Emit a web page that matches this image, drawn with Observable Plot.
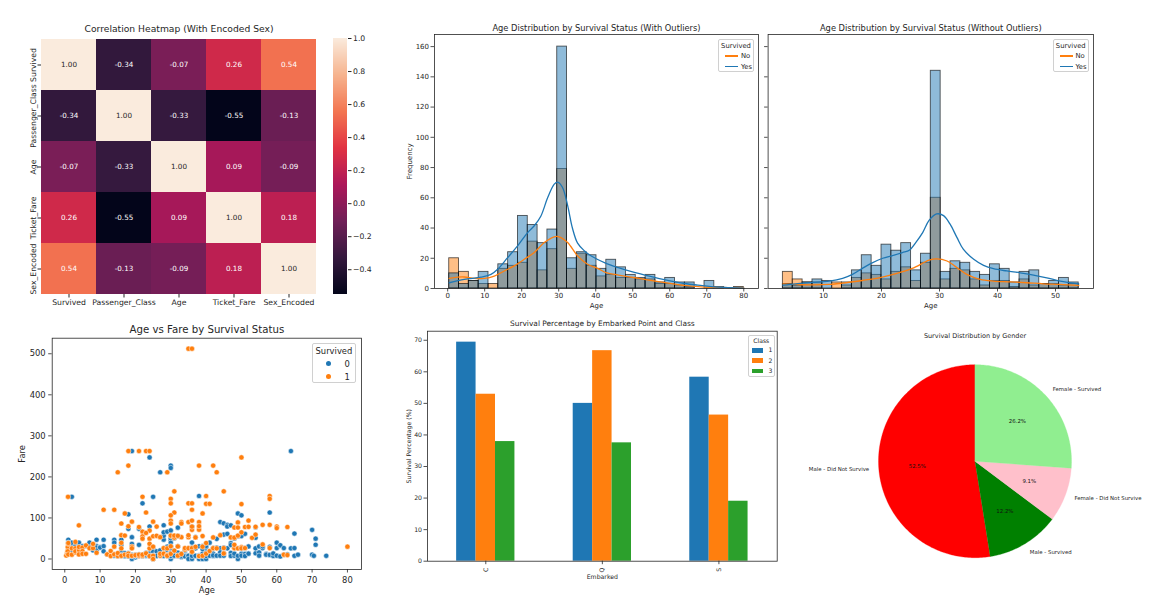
<!DOCTYPE html>
<html>
<head>
<meta charset="utf-8">
<script src="https://cdn.jsdelivr.net/npm/d3@7"></script>
<script src="https://cdn.jsdelivr.net/npm/@observablehq/plot@0.6"></script>
<style>
  html, body { margin: 0; padding: 0; background: #ffffff; }
  #page { position: relative; width: 1175px; height: 607px; overflow: hidden; background: #ffffff; }
</style>
</head>
<body>
<div id="page"></div>
<script>
// ---------- Correlation heatmap ----------
const corrLabels = ["Survived", "Passenger_Class", "Age", "Ticket_Fare", "Sex_Encoded"];
const corrValues = [
  [ 1.00, -0.34, -0.07,  0.26,  0.54],
  [-0.34,  1.00, -0.33, -0.55, -0.13],
  [-0.07, -0.33,  1.00,  0.09, -0.09],
  [ 0.26, -0.55,  0.09,  1.00,  0.18],
  [ 0.54, -0.13, -0.09,  0.18,  1.00]
];
const corrTicks = [-0.4, -0.2, 0.0, 0.2, 0.4, 0.6, 0.8, 1.0];

// ---------- Age histograms (30 bins each) ----------
const histAllMin = 0.42, histAllMax = 80;
const histAllYes = [10, 3, 5, 11, 0, 16, 24, 48, 42, 30, 39, 160, 20, 24, 22, 13, 19, 14, 9, 7, 9, 4, 7, 4, 4, 0, 5, 1, 0, 0];
const histAllNo  = [20, 11, 5, 3, 3, 13, 15, 17, 31, 12, 26, 79, 13, 23, 15, 8, 9, 7, 7, 6, 6, 3, 3, 2, 1, 0, 0, 0, 0, 1];
const histTrimMin = 3, histTrimMax = 54;
const histTrimYes = [3, 2, 4, 6, 5, 0, 4, 12, 22, 15, 29, 25, 30, 12, 23, 144, 11, 18, 17, 11, 9, 16, 13, 4, 11, 12, 3, 5, 7, 4];
const histTrimNo  = [11, 6, 4, 4, 0, 4, 2, 7, 10, 9, 6, 11, 14, 5, 17, 60, 6, 13, 12, 6, 2, 5, 5, 1, 6, 2, 3, 3, 2, 3];
const histAllXTicks = [0, 10, 20, 30, 40, 50, 60, 70, 80];
const histTrimXTicks = [10, 20, 30, 40, 50];
const histYTicks = [0, 20, 40, 60, 80, 100, 120, 140, 160];
const histLegendLabels = ["No", "Yes"];

// Density curves (counts scale)
const kdeAllYesAge  = [0.42, 4.5, 9, 11.7, 13.5, 16.2, 18.9, 21.6, 23.4, 25.2, 27, 28.8, 29.7, 31, 32.4, 33.7, 35.1, 36.9, 38.8, 42.5, 46.1, 49.7, 53.3, 56.9, 60.4, 64, 67.6, 71.2, 74.8, 80];
const kdeAllYesFreq = [3.8, 6, 7.5, 9.3, 12.7, 20.4, 28.2, 37, 41.5, 48, 60, 69, 70.4, 67, 55, 40, 30, 25, 21.5, 17, 13.8, 11.1, 8.9, 6.7, 4.9, 3.3, 2.2, 1.3, 0.7, 0.2];
const kdeAllNoAge   = [0.42, 2.7, 4.5, 7.2, 9.9, 12.6, 15.3, 18, 20.7, 23.4, 26.1, 28.8, 30.1, 32.4, 35.1, 37.8, 40.5, 43, 46.1, 50.6, 55.1, 59.6, 64, 68.5, 73, 80];
const kdeAllNoFreq  = [6.7, 7.5, 7.6, 6.7, 6.7, 8.2, 11.6, 15, 19.3, 23.8, 30.4, 34.2, 34.2, 30.4, 21.6, 16, 13.3, 10.3, 8.9, 7.1, 5.3, 3.6, 2, 1.1, 0.7, 0.4];
const kdeTrimYesAge  = [3, 5.2, 8.1, 11, 13.3, 15, 16.7, 18.4, 20.2, 21.9, 23.6, 24.8, 25.9, 27.1, 28.2, 29.5, 30.7, 31.8, 33, 34.1, 35.9, 37.6, 39.3, 41.6, 43.9, 46.2, 48.5, 50.8, 54];
const kdeTrimYesFreq = [2.2, 3.1, 4, 4.9, 6.7, 9.3, 13.3, 17, 20, 21.8, 23.8, 25.3, 30.4, 37, 45, 49.3, 48.2, 42.7, 33.8, 26, 19.3, 15.3, 13.1, 11.6, 10.4, 8.9, 7.1, 4.9, 3.1];
const kdeTrimNoAge   = [3, 5.2, 8.1, 11, 13.9, 16.7, 19.6, 22.5, 25.3, 28.2, 29.5, 31.3, 33, 34.7, 37, 39.3, 42.2, 45.1, 47.9, 50.8, 54];
const kdeTrimNoFreq  = [3.1, 2.7, 2.4, 2.7, 3.8, 5.3, 7.1, 9.8, 13.3, 18.7, 19.6, 18.2, 13.8, 9.3, 6, 4.9, 4.4, 3.8, 3.1, 2.7, 2];

// ---------- Age vs fare (age, fare) ----------
const fareNotSurvived = [
  [1,46.9],[1,39.7],[2,151.5],[2,29.1],[2,39.7],[2,21],[3,21],[3,31.4],[4,29.1],[4,31.3],[4,39.7],[5,31.4],[6,31.3],[7,39.7],[7,29.1],[8,21],[8,29.1],[9,46.9],[9,31.4],[9,27.9],[9,20.5],[10,29.1],[10,27.9],[11,46.9],[11,31.3],[11,18.8],[12,11.2],[14,46.9],[14,39.7],[14,7.85],[14,11.2],
  [15,7.2],[16,46.9],[16,34.4],[16,18],[16,9.2],[16,7.75],[17,7.9],[17,14.5],[17,8.7],[17,7.1],[18,7.8],[18,11.5],[18,108.9],[18,7.75],[18,14.45],[18,73.5],[18,6.5],[19,8.05],[19,0],[19,7.9],[19,53.1],[19,36.8],[19,263],[19,10.2],[19,6.75],[20,7.05],[20,9.8],[20,4],[20,7.9],[20,8.05],[20,9.5],
  [21,8.05],[21,7.9],[21,73.5],[21,7.8],[21,11.5],[21,34.4],[22,7.25],[22,9],[22,10.5],[22,135.6],[22,8.05],[22,7.8],[23,7.85],[23,13],[23,7.9],[23,15.05],[23,9.2],[24,7.8],[24,79.2],[24,247.5],[24,7.05],[24,16.1],[24,13],[24,8.05],[25,7.05],[25,26],[25,7.65],[25,151.5],[25,17.8],[25,0],[25,7.9],
  [26,7.9],[26,14.5],[26,8.05],[26,18.8],[26,7.75],[27,7.9],[27,13],[27,211.3],[27,8.66],[27,21],[28,7.9],[28,47.1],[28,10.5],[28,56.5],[28,82.2],[28,65],[28,26],[28,9.5],[28,7.75],[29,7.75],[29,21],[29,66.6],[29,7.9],[29,10.5],[29,30],
  [30,0],[30,8.05],[30,13],[30,7.9],[30,27.7],[30,16.1],[30,45.5],[30,227.5],[30,221.8],[30,50],[30,56.5],[30,24.15],[30,7.25],[30,7.75],[30,69.55],[30,15.5],[30,31.3],[30,14.5],[30,8.45],[30,6.95],[30,39.6],
  [31,7.8],[31,50.5],[31,13],[31,18],[31,8.05],[32,7.9],[32,30.5],[32,56.5],[32,15.5],[32,76.3],[32,8.05],[32,7.75],[33,8.05],[33,5],[33,9.5],[33,12.3],[33,7.9],[34,13],[34,8.05],[34,6.5],[34,21],[35,26],[35,7.05],[35,8.05],[35,7.9],[35,0],
  [36,0],[36,13],[36,7.9],[36,27.8],[36,40.1],[36,79.2],[36,15.55],[36,7.5],[37,7.9],[37,26],[37,7.75],[37,53.1],[38,0],[38,7.9],[38,153.5],[38,8.66],[38,31],[38,7.05],[39,0],[39,26],[39,31.3],[39,7.9],[39,13],[39,24.15],[40,0],[40,27.7],[40,9.5],[40,31.3],[40,7.2],[40,15.5],
  [41,14.1],[41,39.7],[41,7.85],[42,7.55],[42,26.55],[42,13],[42,8.66],[43,8.05],[43,27.7],[43,49],[44,26],[44,16.1],[44,90],[44,8.05],[45,8.05],[45,27.7],[45,87],[45,59.5],[45,14.45],[46,61.2],[46,83.2],[46,26],[46,79.2],[47,9],[47,38.5],[47,34],[47,81.9],[47,15],[47,7.25],[48,7.85],[48,50],[48,13],[49,0],[49,26],[49,110.9],[49,55.4],[49,7.9],[50,13],[50,8.05],[50,55.9],[50,106.4],[50,26],
  [51,12.5],[51,61.4],[51,7.05],[51,26.55],[52,13.5],[52,30.5],[52,13],[54,14],[54,51.9],[54,77.3],[54,26],[55,30.5],[55,16],[55,8.05],[56,26.55],[56,30.7],[57,12.35],[57,10.5],[58,29.7],[58,113.3],[58,9.9],[59,7.25],[59,13.5],[60,26.55],[60,39.7],[60,8],[61,32.3],[61,6.2],[61,33.5],[62,26.55],[62,10.5],[63,11.5],[64,26],[64,263],[65,7.75],[65,26.55],[65,62],[66,10.5],[70,10.5],[70,71],[70.5,7.75],[71,34.7],[71,49.5],[74,7.75]
];
const fareSurvived = [
  [35,512.3],[36,512.3],[18,263],[21,263],[23,263],[24,263],[50,247.5],[18,227.5],[38,227.5],[42,227.5],[15,211.3],[29,211.3],[43,211.3],[31,164.9],[45,164.9],[0.92,151.5],[22,151.5],[40,153.5],[58,153.5],[58,146.5],[30,146.5],[30,135.6],[35,135.6],[36,135.6],[40,134.5],[41,134.5],[50,133.7],[11,120],[14,120],[36,120],[23,113.3],[31,113.3],[39,110.9],[17,110.9],
  [16,86.5],[19,91],[25,91],[30,93.5],[33,90],[35,90],[36,93.5],[38,90],[49,89.1],[52,93.5],[4,81.9],[58,83.2],[63,77.96],[18,79.7],[21,77.9],[26,78.9],[48,76.7],[51,77.96],[52,78.3],[54,78.3],[60,79.2],[60,75.25],[24,69.3],[56,83.2],
  [16,57.9],[17,57],[22,66.6],[22,55],[22,49.5],[23,63.4],[24,49.5],[25,55.4],[26,56.5],[27,53.1],[30,56.9],[31,52],[31,57],[33,53.1],[35,53.1],[35,57.75],[36,71],[38,71.3],[37,52.6],[39,55.9],[42,52.6],[44,57.9],[47,52.6],[48,52],[49,56.9],[50,65],[53,51.5],[54,59.4],
  [0.42,8.5],[0.67,14.5],[0.75,19.3],[0.83,29],[0.83,18.75],[1,11.1],[1,37],[1,39],[2,26],[2,10.5],[3,41.6],[3,26],[3,15.9],[3,18.75],[4,16.7],[4,22],[4,11.1],[4,29.1],[5,27.75],[5,19.25],[5,12.5],[6,12.5],[6,33],[7,26.25],[8,26.25],[8,36.75],[9,15.25],[12,11.24],[13,19.5],[13,7.2],[14,11.24],[14,30.07],[15,7.2],[15,14.45],[16,26],[16,39.4],[16,7.7],[17,10.5],[18,9.8],[18,13],[18,7.75],[19,30],[19,26],[19,7.85],[20,9.2],[21,7.65],[21,10.5],[22,7.75],[22,10.5],[23,13.8],[24,26],[24,7.1],[24,37],[25,7.9],[25,30],[25,0],[27,7.9],[27,12.5],[28,13],[28,26.55],[29,26],[29,9.5],[29,7.8],
  [30,31],[30,12.5],[30,86.5],[30,106.4],[31,20.5],[32,30.5],[32,8.05],[32,56.5],[33,86.5],[33,12.3],[34,23],[34,26.55],[35,26.3],[36,26.4],[36,78.9],[36,17.4],[37,29.7],[38,80],[38,7.2],[39,30],[39,7.9],[40,13],[40,39],[41,19.5],[42,26.3],[43,26],[45,26.55],[45,13.5],[48,25.9],[48,26.55],[48,34.4],[49,25.9],[49,76.7],[50,28.7],[50,26],[51,26.55],[56,35.5],[58,26.55],[62,10.5],[63,9.6],[80,30]
];
const scatterXTicks = [0, 10, 20, 30, 40, 50, 60, 70, 80];
const scatterYTicks = [0, 100, 200, 300, 400, 500];
const scatterLegendLabels = ["0", "1"];

// ---------- Survival percentage by embarked point and class ----------
const embarkPoints = ["C", "Q", "S"];
const classLabels = ["1", "2", "3"];
const survivalPct = [
  [69.4, 52.9, 37.9],
  [50.0, 66.7, 37.5],
  [58.3, 46.3, 19.0]
];
const pctTicks = [0, 10, 20, 30, 40, 50, 60, 70];

// ---------- Survival by gender ----------
const pieLabels = ["Male - Did Not Survive", "Male - Survived", "Female - Did Not Survive", "Female - Survived"];
const pieCounts = [468, 109, 81, 233];

// ================= drawing =================
const FONT = "'DejaVu Sans', sans-serif";
const INK = "#262626";
const BLUE = "#1f77b4", ORANGE = "#ff7f0e", GREEN = "#2ca02c";
const classColors = [BLUE, ORANGE, GREEN];
const pieColors = ["#ff0000", "#008000", "#ffc0cb", "#90ee90"];
const ROCKET = ["#03051A", "#35193E", "#701F57", "#AD1759", "#E13342", "#F37651", "#F6B48F", "#FAEBDD"];
const page = document.getElementById("page");

function mount(svg, left, top) {
  Object.assign(svg.style, {position: "absolute", left: left + "px", top: top + "px", overflow: "visible", background: "none", maxWidth: "none"});
  page.appendChild(svg);
}
const baseStyle = {fontFamily: FONT, color: INK, background: "none", overflow: "visible"};
const frameMark = () => Plot.frame({stroke: INK, strokeWidth: 0.8});

// matplotlib-style legend box
function legendBox(s) {
  const box = document.createElement("div");
  Object.assign(box.style, {position: "absolute", left: s.x + "px", top: s.y + "px", width: s.w + "px", height: s.h + "px",
    boxSizing: "border-box", border: "0.8px solid #d0d0d0", borderRadius: "2px", background: "rgba(255,255,255,0.85)",
    fontFamily: FONT, fontSize: s.fs + "px", color: INK, lineHeight: "1"});
  const t = document.createElement("div");
  Object.assign(t.style, {position: "absolute", left: "0", width: "100%", textAlign: "center", top: (s.titleY - s.y) + "px", transform: "translateY(-50%)", whiteSpace: "nowrap"});
  t.textContent = s.title;
  box.appendChild(t);
  s.entries.forEach((e, k) => {
    const cy = s.rowY[k] - s.y;
    const sw = document.createElement("div");
    if (s.kind === "line") {
      Object.assign(sw.style, {position: "absolute", left: (s.sx0 - s.x) + "px", width: (s.sx1 - s.sx0) + "px", top: (cy - 0.75) + "px", height: "1.5px", background: e.color});
    } else if (s.kind === "dot") {
      Object.assign(sw.style, {position: "absolute", left: (s.sx0 - s.x - 2.6) + "px", width: "5.2px", top: (cy - 2.6) + "px", height: "5.2px", borderRadius: "50%", background: e.color});
    } else {
      Object.assign(sw.style, {position: "absolute", left: (s.sx0 - s.x) + "px", width: (s.sx1 - s.sx0) + "px", top: (cy - 2.3) + "px", height: "4.6px", background: e.color});
    }
    const lb = document.createElement("div");
    Object.assign(lb.style, {position: "absolute", left: (s.lx - s.x) + "px", top: cy + "px", transform: "translateY(-50%)", whiteSpace: "nowrap"});
    lb.textContent = e.label;
    box.append(sw, lb);
  });
  page.appendChild(box);
}

// ---- heatmap ----
const corrCells = corrLabels.flatMap((row, i) => corrLabels.map((col, j) => ({row, col, value: corrValues[i][j]})));
const corrMin = d3.min(corrCells, d => d.value);
const rocket = d3.piecewise(d3.interpolateRgb, ROCKET);
const corrColor = {type: "linear", domain: [corrMin, 1], interpolate: rocket};
const cellText = {x: "col", y: "row", text: d => d.value.toFixed(2), fontSize: 7.2};

mount(Plot.plot({
  width: 325, height: 320, marginLeft: 41, marginRight: 9, marginTop: 38, marginBottom: 26,
  style: baseStyle,
  x: {domain: corrLabels, padding: 0},
  y: {domain: corrLabels, padding: 0},
  color: corrColor,
  marks: [
    Plot.cell(corrCells, {x: "col", y: "row", fill: "value", inset: 0}),
    Plot.text(corrCells.filter(d => d.value >= 0.75), {...cellText, fill: INK}),
    Plot.text(corrCells.filter(d => d.value < 0.75), {...cellText, fill: "#ffffff"}),
    Plot.axisX({tickSize: 3.5, tickPadding: 2, fontSize: 7.7, label: null}),
    Plot.axisY({tickSize: 3.5, tickPadding: 2, tickRotate: -90, fontSize: 7.7, label: null}),
    Plot.text(["Correlation Heatmap (With Encoded Sex)"], {text: d => d, frameAnchor: "top", lineAnchor: "middle", dy: -9, fontSize: 9.2})
  ]
}), 0, 0);

// ---- colour bar ----
const rampN = 256, rampStep = (1 - corrMin) / rampN;
const rampLevels = d3.range(rampN).map(i => corrMin + i * rampStep);
mount(Plot.plot({
  width: 60, height: 320, marginLeft: 8, marginRight: 38, marginTop: 38, marginBottom: 26,
  style: baseStyle,
  x: {domain: [0, 1], axis: null},
  y: {domain: [corrMin, 1]},
  color: corrColor,
  marks: [
    Plot.rect(rampLevels, {x1: () => 0, x2: () => 1, y1: d => d, y2: d => d + rampStep * 1.02, fill: d => d + rampStep / 2, shapeRendering: "crispEdges"}),
    Plot.axisY({anchor: "right", ticks: corrTicks, tickFormat: d3.format(".1f"), tickSize: 3.5, tickPadding: 2, fontSize: 7.7, label: null})
  ]
}), 325, 0);

// ---- histograms ----
function binsOf(min, max, counts) {
  const w = (max - min) / counts.length;
  return counts.map((n, i) => ({x1: min + i * w, x2: min + (i + 1) * w, n})).filter(d => d.n > 0);
}
const histYMax = d3.max([...histAllYes, ...histAllNo, ...histTrimYes, ...histTrimNo]) * 1.05;
function histPanel(o) {
  const pad = (o.max - o.min) * 0.05;
  const barStyle = {x1: "x1", x2: "x2", y1: () => 0, y2: "n", fillOpacity: 0.5, stroke: "#000000", strokeOpacity: 0.65, strokeWidth: 0.9};
  const lineStyle = {x: d => d[0], y: d => d[1], strokeWidth: 1.3, curve: "catmull-rom"};
  return Plot.plot({
    width: o.width, height: 315, marginLeft: o.marginLeft, marginRight: o.marginRight, marginTop: 34, marginBottom: 27,
    style: baseStyle,
    x: {domain: [o.min - pad, o.max + pad]},
    y: {domain: [0, histYMax]},
    marks: [
      Plot.rect(binsOf(o.min, o.max, o.no), {...barStyle, fill: ORANGE}),
      Plot.rect(binsOf(o.min, o.max, o.yes), {...barStyle, fill: BLUE}),
      Plot.line(d3.zip(o.kdeNoAge, o.kdeNoFreq), {...lineStyle, stroke: ORANGE}),
      Plot.line(d3.zip(o.kdeYesAge, o.kdeYesFreq), {...lineStyle, stroke: BLUE}),
      frameMark(),
      Plot.axisX({ticks: o.xTicks, tickSize: 3.5, tickPadding: 1.5, fontSize: 7, label: null, strokeWidth: 0.8}),
      Plot.axisY({ticks: histYTicks, tickSize: 3.5, tickPadding: 2, fontSize: 7, label: null, strokeWidth: 0.8,
                  tickFormat: o.yLabels ? d => String(d) : () => ""}),
      Plot.text([o.title], {text: d => d, frameAnchor: "top", lineAnchor: "middle", dy: -6, fontSize: 8.3}),
      Plot.text(["Age"], {text: d => d, frameAnchor: "bottom", lineAnchor: "middle", dy: 17, fontSize: 7}),
      o.yLabels ? Plot.text(["Frequency"], {text: d => d, frameAnchor: "left", textAnchor: "middle", lineAnchor: "middle", rotate: -90, dx: -25, fontSize: 7}) : null
    ]
  });
}
mount(histPanel({
  width: 370, marginLeft: 39, marginRight: 7, min: histAllMin, max: histAllMax, yes: histAllYes, no: histAllNo,
  kdeYesAge: kdeAllYesAge, kdeYesFreq: kdeAllYesFreq, kdeNoAge: kdeAllNoAge, kdeNoFreq: kdeAllNoFreq,
  xTicks: histAllXTicks, yLabels: true, title: "Age Distribution by Survival Status (With Outliers)"
}), 395, 0);
mount(histPanel({
  width: 340, marginLeft: 5.6, marginRight: 9, min: histTrimMin, max: histTrimMax, yes: histTrimYes, no: histTrimNo,
  kdeYesAge: kdeTrimYesAge, kdeYesFreq: kdeTrimYesFreq, kdeNoAge: kdeTrimNoAge, kdeNoFreq: kdeTrimNoFreq,
  xTicks: histTrimXTicks, yLabels: false, title: "Age Distribution by Survival Status (Without Outliers)"
}), 762, 0);
const histLegendEntries = [{label: histLegendLabels[0], color: ORANGE}, {label: histLegendLabels[1], color: BLUE}];
legendBox({x: 718, y: 39, w: 36, h: 33, fs: 6.8, title: "Survived", titleY: 44.5, rowY: [54.8, 65.6], kind: "line", sx0: 724, sx1: 737, lx: 740, entries: histLegendEntries});
legendBox({x: 1052.5, y: 39, w: 36.5, h: 33, fs: 6.8, title: "Survived", titleY: 44.5, rowY: [54.8, 65.6], kind: "line", sx0: 1058.5, sx1: 1071.5, lx: 1074.5, entries: histLegendEntries});

// ---- scatter ----
const scatterRows = [
  ...fareNotSurvived.map(([age, fare]) => ({age, fare, survived: 0})),
  ...fareSurvived.map(([age, fare]) => ({age, fare, survived: 1}))
];
const ageExt = d3.extent(scatterRows, d => d.age), fareExt = d3.extent(scatterRows, d => d.fare);
const agePad = (ageExt[1] - ageExt[0]) * 0.05, farePad = (fareExt[1] - fareExt[0]) * 0.05;
const dotStyle = {x: "age", y: "fare", r: 2.6, stroke: "#ffffff", strokeWidth: 0.5};
mount(Plot.plot({
  width: 375, height: 297, marginLeft: 51.7, marginRight: 14, marginTop: 27.7, marginBottom: 38,
  style: baseStyle,
  x: {domain: [ageExt[0] - agePad, ageExt[1] + agePad]},
  y: {domain: [fareExt[0] - farePad, fareExt[1] + farePad]},
  marks: [
    Plot.dot(scatterRows.filter(d => d.survived === 0), {...dotStyle, fill: BLUE}),
    Plot.dot(scatterRows.filter(d => d.survived === 1), {...dotStyle, fill: ORANGE}),
    frameMark(),
    Plot.axisX({ticks: scatterXTicks, tickSize: 3.5, tickPadding: 4, fontSize: 8.4, label: null, strokeWidth: 0.8}),
    Plot.axisY({ticks: scatterYTicks, tickSize: 3.5, tickPadding: 3, fontSize: 8.4, label: null, strokeWidth: 0.8}),
    Plot.text(["Age vs Fare by Survival Status"], {text: d => d, frameAnchor: "top", lineAnchor: "middle", dy: -8.7, fontSize: 10.2}),
    Plot.text(["Age"], {text: d => d, frameAnchor: "bottom", lineAnchor: "middle", dy: 21, fontSize: 8.4}),
    Plot.text(["Fare"], {text: d => d, frameAnchor: "left", textAnchor: "middle", lineAnchor: "middle", rotate: -90, dx: -30, fontSize: 8.4})
  ]
}), 0, 310);
legendBox({x: 311.7, y: 343, w: 44.5, h: 40, fs: 8.4, title: "Survived", titleY: 349.5, rowY: [362.7, 375.7], kind: "dot", sx0: 327.5, lx: 343.5,
  entries: [{label: scatterLegendLabels[0], color: BLUE}, {label: scatterLegendLabels[1], color: ORANGE}]});

// ---- grouped bars ----
const groupWidth = 0.5, barWidth = groupWidth / classLabels.length;
const barRows = embarkPoints.flatMap((e, i) => classLabels.map((c, j) => ({embarked: e, cls: c, i, j, pct: survivalPct[i][j]})));
mount(Plot.plot({
  width: 395, height: 297, marginLeft: 37, marginRight: 8.3, marginTop: 20.7, marginBottom: 46.3,
  style: baseStyle,
  x: {domain: [-0.5, embarkPoints.length - 0.5]},
  y: {domain: [0, d3.max(barRows, d => d.pct) * 1.05]},
  marks: [
    ...classLabels.map((c, j) => Plot.rect(barRows.filter(d => d.j === j), {
      x1: d => d.i - groupWidth / 2 + d.j * barWidth, x2: d => d.i - groupWidth / 2 + (d.j + 1) * barWidth,
      y1: () => 0, y2: "pct", fill: classColors[j]})),
    frameMark(),
    Plot.axisX({ticks: d3.range(embarkPoints.length), tickFormat: i => embarkPoints[i], tickRotate: -90, tickSize: 3.5, tickPadding: 3, fontSize: 6.2, label: null, strokeWidth: 0.8}),
    Plot.axisY({ticks: pctTicks, tickSize: 3.5, tickPadding: 2, fontSize: 6.2, label: null, strokeWidth: 0.8}),
    Plot.text(["Survival Percentage by Embarked Point and Class"], {text: d => d, frameAnchor: "top", lineAnchor: "middle", dy: -8, fontSize: 7.45}),
    Plot.text(["Embarked"], {text: d => d, frameAnchor: "bottom", lineAnchor: "middle", dy: 16, fontSize: 6.2}),
    Plot.text(["Survival Percentage (%)"], {text: d => d, frameAnchor: "left", textAnchor: "middle", lineAnchor: "middle", rotate: -90, dx: -18, fontSize: 6.2})
  ]
}), 390, 310);
legendBox({x: 748, y: 335, w: 26.5, h: 42, fs: 6.1, title: "Class", titleY: 339.8, rowY: [349.3, 359.7, 370], kind: "rect", sx0: 751, sx1: 761.5, lx: 767.5,
  entries: classLabels.map((c, j) => ({label: c, color: classColors[j]}))});

// ---- pie ----
const pieW = 369, pieH = 260, pieR = 96.5, pieCx = 184.5, pieCy = 140.7;
const pieTotal = d3.sum(pieCounts);
const deg = Math.PI / 180;
let startAngle = 90;
const slices = pieCounts.map((n, i) => {
  const sweep = 360 * n / pieTotal;
  const s = {label: pieLabels[i], n, i, a0: startAngle, a1: startAngle + sweep, mid: (startAngle + sweep / 2) * deg};
  startAngle += sweep;
  return s;
});
function wedge(s) {
  const steps = Math.max(2, Math.ceil(s.a1 - s.a0));
  return [[0, 0], ...d3.range(steps + 1).map(k => {
    const a = (s.a0 + (s.a1 - s.a0) * k / steps) * deg;
    return [Math.cos(a), Math.sin(a)];
  })];
}
mount(Plot.plot({
  width: pieW, height: pieH, marginLeft: 0, marginRight: 0, marginTop: 0, marginBottom: 0,
  style: baseStyle,
  x: {domain: [-pieCx / pieR, (pieW - pieCx) / pieR], axis: null},
  y: {domain: [-(pieH - pieCy) / pieR, pieCy / pieR], axis: null},
  marks: [
    ...slices.map(s => Plot.line(wedge(s), {x: d => d[0], y: d => d[1], fill: pieColors[s.i], stroke: pieColors[s.i], strokeWidth: 0.3, curve: "linear-closed"})),
    Plot.text(slices.filter(s => Math.cos(s.mid) >= 0), {x: s => 1.1 * Math.cos(s.mid), y: s => 1.1 * Math.sin(s.mid), text: "label", textAnchor: "start", fontSize: 5.4, fill: INK}),
    Plot.text(slices.filter(s => Math.cos(s.mid) < 0), {x: s => 1.1 * Math.cos(s.mid), y: s => 1.1 * Math.sin(s.mid), text: "label", textAnchor: "end", fontSize: 5.4, fill: INK}),
    Plot.text(slices, {x: s => 0.6 * Math.cos(s.mid), y: s => 0.6 * Math.sin(s.mid), text: s => (100 * s.n / pieTotal).toFixed(1) + "%", fontSize: 5.4, fill: "#111111"}),
    Plot.text(["Survival Distribution by Gender"], {text: d => d, frameAnchor: "top", lineAnchor: "middle", dy: 15, fontSize: 6.5})
  ]
}), 790, 320);
</script>
</body>
</html>
